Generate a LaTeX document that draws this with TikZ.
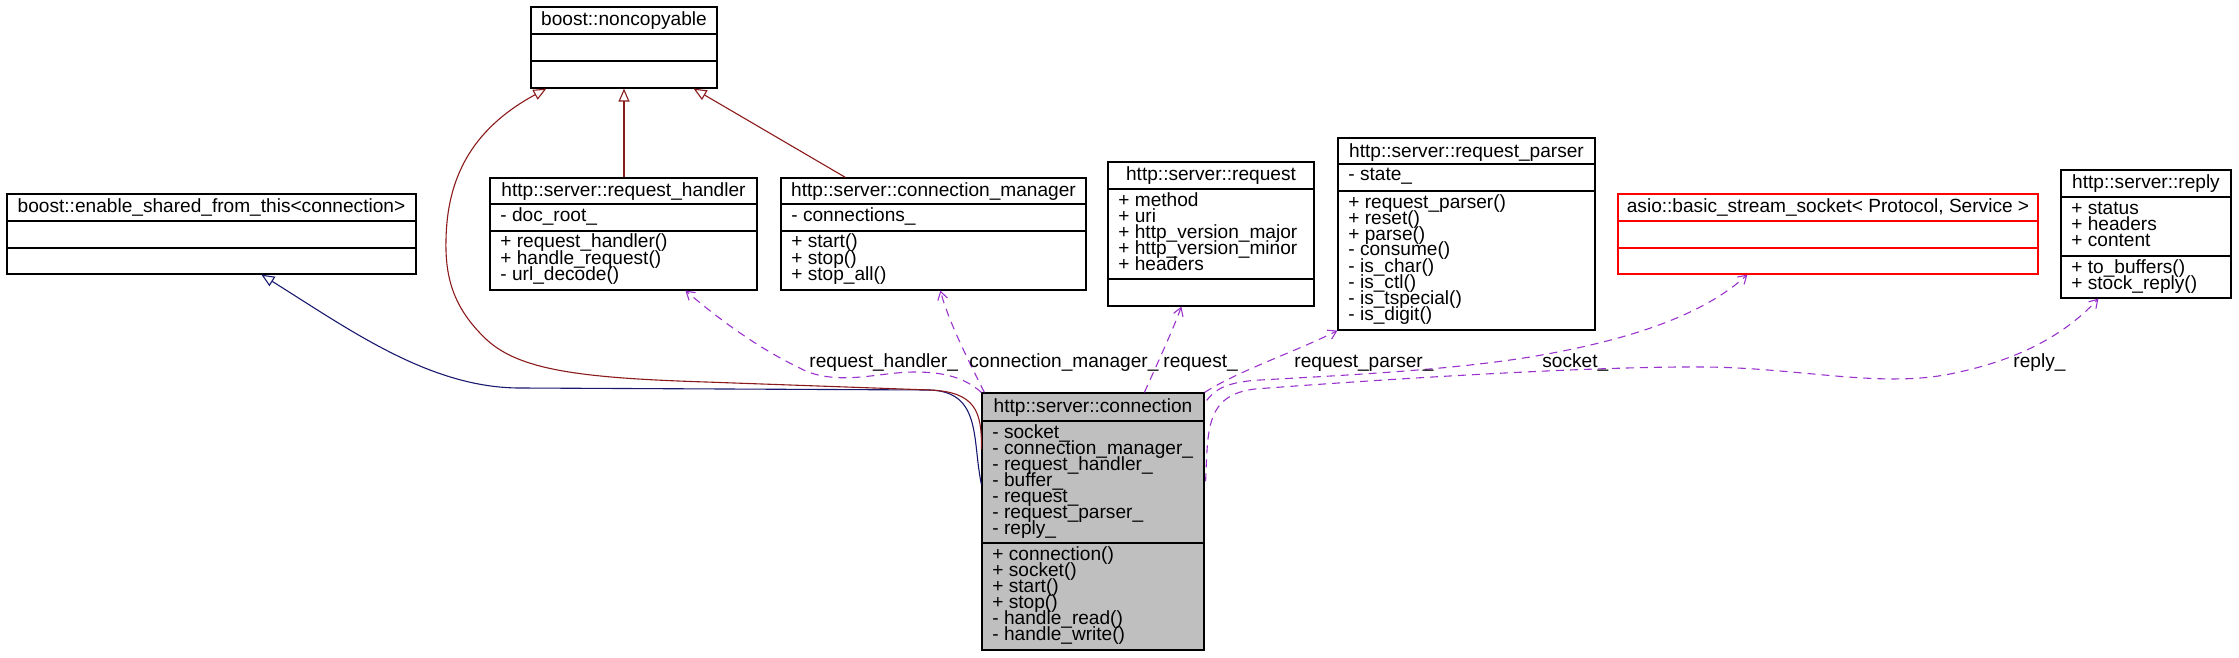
\documentclass[tikz,border=0pt]{standalone}
\usepackage{fontspec}
\setmainfont{Liberation Sans}
\usetikzlibrary{arrows.meta,fit,calc}
\definecolor{inhblue}{HTML}{191970}
\definecolor{inhred}{HTML}{8B1A1A}
\definecolor{usecol}{HTML}{9A32CD}
\definecolor{hlgray}{HTML}{BFBFBF}
\tikzset{
  boxframe/.style={draw=black, line width=0.6pt},
  txt/.style={font=\fontsize{9.55pt}{8pt}\selectfont, inner sep=0pt, text=black},
  inh/.style={line width=0.55pt, -{Triangle[open, length=6.5pt, width=5.5pt]}},
  usage/.style={usecol, line width=0.55pt, dash pattern=on 4pt off 3pt, -{Straight Barb[length=4pt, width=5pt]}},
  edgelabel/.style={txt, anchor=base west}
}
\newcommand{\classframe}[6]{\node[fit={(#2,#3) (#4,#5)}, inner sep=0pt, boxframe, #6] (#1) {};}
\newcommand{\classtitle}[4]{\node[txt, anchor=base] at ({(#1+#2)/2}, #3) {#4};}
\newcommand{\classsep}[4]{\draw[boxframe, #4] (#1,#3) -- (#2,#3);}
\newcommand{\classlines}[3]{\foreach \lbl [count=\i from 0] in {#3} {\node[txt, anchor=base west] at (#1, {#2+16*\i}) {\lbl};}}
\begin{document}
\begin{tikzpicture}[x=0.5pt, y=-0.5pt]
\useasboundingbox (0,0) rectangle (2239,658);

% boost::noncopyable
\classframe{nc}{531}{7}{717}{88}{}
\classtitle{531}{717}{26}{boost::noncopyable}
\classsep{531}{717}{34}{}
\classsep{531}{717}{61}{}

% boost::enable_shared_from_this
\classframe{es}{7}{194}{416}{274}{}
\classtitle{7}{416}{213}{boost::enable\_shared\_from\_this<connection>}
\classsep{7}{416}{221}{}
\classsep{7}{416}{248}{}

% request_handler
\classframe{rh}{490}{178}{757}{290}{}
\classtitle{490}{757}{197}{http::server::request\_handler}
\classsep{490}{757}{204}{}
\classsep{490}{757}{231}{}
\classlines{500}{221}{- doc\_root\_}
\classlines{500}{248}{+ request\_handler(), + handle\_request(), - url\_decode()}

% connection_manager
\classframe{cm}{781}{178}{1086}{290}{}
\classtitle{781}{1086}{197}{http::server::connection\_manager}
\classsep{781}{1086}{204}{}
\classsep{781}{1086}{231}{}
\classlines{791}{221}{- connections\_}
\classlines{791}{248}{+ start(), + stop(), + stop\_all()}

% request
\classframe{rq}{1108}{162}{1314}{306}{}
\classtitle{1108}{1314}{181}{http::server::request}
\classsep{1108}{1314}{189}{}
\classsep{1108}{1314}{279}{}
\classlines{1118}{206}{+ method, + uri, + http\_version\_major, + http\_version\_minor, + headers}

% request_parser
\classframe{rp}{1338}{138}{1595}{330}{}
\classtitle{1338}{1595}{157}{http::server::request\_parser}
\classsep{1338}{1595}{164}{}
\classsep{1338}{1595}{191}{}
\classlines{1348}{181}{- state\_}
\classlines{1348}{208}{+ request\_parser(), + reset(), + parse(), - consume(), - is\_char(), - is\_ctl(), - is\_tspecial(), - is\_digit()}

% asio socket
\classframe{asio}{1618}{194}{2038}{274}{draw=red}
\classtitle{1618}{2038}{213}{asio::basic\_stream\_socket< Protocol, Service >}
\classsep{1618}{2038}{221}{draw=red}
\classsep{1618}{2038}{248}{draw=red}

% reply
\classframe{rep}{2061}{170}{2231}{298}{}
\classtitle{2061}{2231}{189}{http::server::reply}
\classsep{2061}{2231}{197}{}
\classsep{2061}{2231}{256}{}
\classlines{2071}{214}{+ status, + headers, + content}
\classlines{2071}{273}{+ to\_buffers(), + stock\_reply()}

% connection
\classframe{conn}{982}{393}{1204}{650}{fill=hlgray}
\classtitle{982}{1204}{412}{http::server::connection}
\classsep{982}{1204}{421}{}
\classsep{982}{1204}{543}{}
\classlines{992}{438}{- socket\_, - connection\_manager\_, - request\_handler\_, - buffer\_, - request\_, - request\_parser\_, - reply\_}
\classlines{992}{560}{+ connection(), + socket(), + start(), + stop(), - handle\_read(), - handle\_write()}

% inheritance edges
\draw[inh, inhblue] ([shift={(0,92)}]conn.north west) .. controls (972,440) and (982,392) .. (930,390)
  -- (520,388) .. controls (430,388) and (350,330) .. ([shift={(255,0)}]es.south west);
\draw[inh, inhred] ([shift={(0,57)}]conn.north west) .. controls (982,412) and (976,392) .. (930,390)
  -- (706,382) .. controls (580,378) and (520,370) .. (487,340)
  .. controls (455,310) and (445,280) .. (446,240)
  .. controls (447,180) and (470,130) .. ([shift={(16,0)}]nc.south west);
\draw[inh, inhred] (rh.north -| nc.south) -- (nc.south);
\draw[inh, inhred] ([shift={(65,0)}]cm.north west) -- ([shift={(-24,0)}]nc.south east);

% usage edges
\draw[usage] (conn.north west) .. controls (965,378) and (945,372) .. (915,372)
  .. controls (880,372) and (845,385) .. (808,372)
  .. controls (760,350) and (720,320) .. ([shift={(196,0)}]rh.south west);
\draw[usage] ([shift={(3,0)}]conn.north west) .. controls (968,360) and (948,320) .. ([shift={(160,0)}]cm.south west);
\draw[usage] ([shift={(163,0)}]conn.north west) .. controls (1158,362) and (1172,332) .. ([shift={(74,0)}]rq.south west);
\draw[usage] (conn.north east) .. controls (1240,370) and (1295,352) .. (rp.south west);
\draw[usage] ([shift={(2,8)}]conn.north east) .. controls (1215,390) and (1225,382) .. (1260,380)
  .. controls (1350,375) and (1450,370) .. (1530,357)
  .. controls (1620,342) and (1700,318) .. ([shift={(130,0)}]asio.south west);
\draw[usage] ([shift={(1,89)}]conn.north east) .. controls (1208,430) and (1205,395) .. (1255,389)
  .. controls (1400,378) and (1600,366) .. (1706,367)
  .. controls (1800,368) and (1880,388) .. (1950,374)
  .. controls (2010,362) and (2060,340) .. ([shift={(38,0)}]rep.south west);

% edge labels
\node[edgelabel] (lrh) at (809,367) {request\_handler\_};
\node[edgelabel] (lcm) at (969,367) {connection\_manager\_};
\node[edgelabel] (lrq) at (1163,367) {request\_};
\node[edgelabel] (lrp) at (1294,367) {request\_parser\_};
\node[edgelabel] (lso) at (1542,367) {socket\_};
\node[edgelabel] (lre) at (2013,367) {reply\_};
\end{tikzpicture}
\end{document}
